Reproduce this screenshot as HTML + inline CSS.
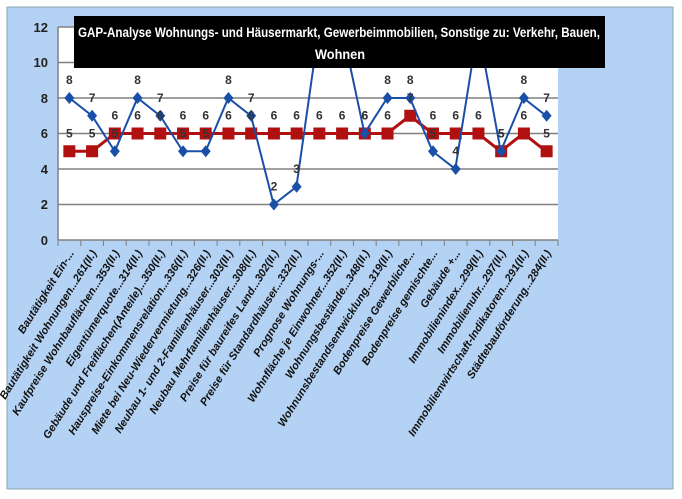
<!DOCTYPE html><html><head><style>body{margin:0;background:#fff}</style></head><body>
<svg width="682" height="494" xmlns="http://www.w3.org/2000/svg" font-family="Liberation Sans, sans-serif">
<rect x="0" y="0" width="682" height="494" fill="#fff"/>
<rect x="7" y="7" width="666" height="482" fill="#b4d2f4" stroke="#8aa" stroke-width="1"/>
<rect x="58" y="27" width="500" height="213" fill="#fff"/>
<g stroke="#808080" stroke-width="1.5">
<line x1="58" y1="27" x2="558" y2="27"/><line x1="58" y1="62.5" x2="558" y2="62.5"/><line x1="58" y1="98" x2="558" y2="98"/><line x1="58" y1="133.5" x2="558" y2="133.5"/><line x1="58" y1="169" x2="558" y2="169"/><line x1="58" y1="204.5" x2="558" y2="204.5"/><line x1="58" y1="240" x2="558" y2="240"/><line x1="58" y1="27" x2="58" y2="240"/>
</g>
<g font-size="13" font-weight="bold" fill="#222" text-anchor="end">
<text x="48" y="32">12</text><text x="48" y="67">10</text><text x="48" y="103">8</text><text x="48" y="138">6</text><text x="48" y="174">4</text><text x="48" y="209">2</text><text x="48" y="245">0</text>
</g>
<g id="ticks" stroke="#808080"></g>
<polyline fill="none" stroke="#b01010" stroke-width="3" points="69.4,151.3 92.1,151.3 114.8,133.5 137.5,133.5 160.2,133.5 182.9,133.5 205.6,133.5 228.3,133.5 251,133.5 273.7,133.5 296.4,133.5 319.1,133.5 341.8,133.5 364.5,133.5 387.2,133.5 409.9,115.8 432.6,133.5 455.3,133.5 478,133.5 500.7,151.3 523.4,133.5 546.1,151.3"/>
<g fill="#b01010" id="rm"></g>
<polyline fill="none" stroke="#1a4fa8" stroke-width="2" points="69.4,98 92.1,115.8 114.8,151.3 137.5,98 160.2,115.8 182.9,151.3 205.6,151.3 228.3,98 251,115.8 273.7,204.5 296.4,186.8 319.1,27 341.8,27 364.5,133.5 387.2,98 409.9,98 432.6,151.3 455.3,169 478,27 500.7,151.3 523.4,98 546.1,115.8"/>
<g fill="#1a4fa8" id="bm"></g>
<g font-size="12" font-weight="bold" fill="#333" text-anchor="middle" id="lb"></g>
<rect x="74" y="16" width="531" height="52" fill="#000"/>
<text x="78" y="37" font-size="13.5" font-weight="bold" fill="#fff" textLength="522" lengthAdjust="spacingAndGlyphs">GAP-Analyse Wohnungs- und Häusermarkt, Gewerbeimmobilien,  Sonstige zu: Verkehr, Bauen,</text>
<text x="340" y="59" font-size="13.5" font-weight="bold" fill="#fff" text-anchor="middle" textLength="50" lengthAdjust="spacingAndGlyphs">Wohnen</text>
<g font-size="11" font-weight="bold" font-style="italic" fill="#111" text-anchor="end" id="xl"></g>
<script>
var red=[5,5,6,6,6,6,6,6,6,6,6,6,6,6,6,7,6,6,6,5,6,5],blue=[8,7,5,8,7,5,5,8,7,2,3,12,12,6,8,8,5,4,12,5,8,7];
var labs=["Bautätigkeit Ein-...","Bautätigkeit Wohnungen...261(II.)","Kaufpreise Wohnbauflächen...353(II.)","Eigentümerquote...314(II.)","Gebäude und Freiflächen(Anteile)...350(II.)","Hauspreise-Einkommensrelation...336(II.)","Miete bei Neu-Wiedervermietung...326(II.)","Neubau 1- und 2-Familienhäuser...303(II.)","Neubau Mehrfamilienhäuser...308(II.)","Preise für baureifes Land...302(II.)","Preise für Standardhäuser...332(II.)","Prognose Wohnungs-...","Wohnfläche je Einwohner...352(II.)","Wohnungsbestände...348(II.)","Wohnunsbestandsentwicklung...319(II.)","Bodenpreise Gewerbliche...","Bodenpreise gemischte...","Gebäude +...","Immobilienindex...299(II.)","Immobilienuhr...297(II.)","Immobilienwirtschaft-Indikatoren...291(II.)","Städtebauförderung...284(II.)"];
var ns="http://www.w3.org/2000/svg";function el(t,a,p,tx){var e=document.createElementNS(ns,t);for(var k in a)e.setAttribute(k,a[k]);if(tx)e.textContent=tx;document.getElementById(p).appendChild(e);}
function Y(v){return 240-v*17.75;}
for(var i=0;i<=22;i++)el("line",{x1:58+i*22.727,y1:240,x2:58+i*22.727,y2:246},"ticks");
for(var i=0;i<22;i++){var x=58+22.727*(i+0.5);
el("rect",{x:x-6,y:Y(red[i])-6,width:12,height:12},"rm");
if(blue[i]<12){el("polygon",{points:(x)+","+(Y(blue[i])-6)+" "+(x+5)+","+Y(blue[i])+" "+x+","+(Y(blue[i])+6)+" "+(x-5)+","+Y(blue[i])},"bm");
el("text",{x:x,y:Y(blue[i])-14},"lb",""+blue[i]);}
el("text",{x:x,y:Y(red[i])-14},"lb",""+red[i]);
el("text",{x:0,y:0,transform:"translate("+(x+5)+",253) rotate(-58)"},"xl",labs[i]);}
</script>
</svg></body></html>
